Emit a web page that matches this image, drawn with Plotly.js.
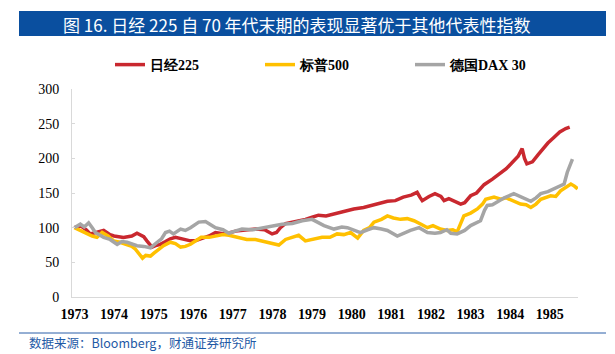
<!DOCTYPE html>
<html>
<head>
<meta charset="utf-8">
<script src="https://cdn.plot.ly/plotly-3.0.1.min.js"></script>
<style>html,body{margin:0;padding:0;background:#fff;}#chart{width:615px;height:354px;}</style>
</head>
<body>
<div id="chart"></div>
<script>
// ---- data (decimal year, index level, 1973 = 100) ----
const nikkeiDates = [1973.0,1973.15,1973.3,1973.4,1973.55,1973.74,1973.9,1974.0,1974.24,1974.45,1974.58,1974.75,1974.83,1974.96,1975.05,1975.17,1975.3,1975.42,1975.55,1975.68,1975.8,1975.93,1976.05,1976.2,1976.4,1976.56,1976.8,1977.07,1977.3,1977.57,1977.8,1977.99,1978.1,1978.2,1978.33,1978.6,1978.83,1979.0,1979.16,1979.35,1979.6,1979.8,1980.05,1980.3,1980.6,1980.9,1981.1,1981.3,1981.5,1981.65,1981.72,1981.78,1981.95,1982.1,1982.25,1982.33,1982.45,1982.6,1982.75,1982.85,1983.0,1983.15,1983.34,1983.55,1983.76,1983.9,1984.05,1984.2,1984.3,1984.36,1984.42,1984.56,1984.7,1984.81,1984.95,1985.1,1985.25,1985.4,1985.5];
const nikkeiValues = [100,103,97,91,93,96,90,88,86,88,92,87,81,72,74,76,80,84,86,84,83,81,81,84,88,93,91,95,96,98,97,91,93,100,106,109,112,115,118,117,121,123,127,129,133,138,139,144,147,151,144,139,145,149,145,139,142,138,134,136,146,150,162,170,179,185,194,203,214,200,192,195,205,213,222,230,238,243,245];

const spxDates = [1973.0,1973.15,1973.32,1973.45,1973.57,1973.7,1973.85,1973.99,1974.15,1974.33,1974.45,1974.54,1974.65,1974.72,1974.8,1974.92,1975.0,1975.09,1975.25,1975.42,1975.55,1975.68,1975.8,1975.93,1976.05,1976.2,1976.4,1976.56,1976.75,1976.9,1977.15,1977.35,1977.57,1977.8,1978.0,1978.16,1978.33,1978.5,1978.66,1978.83,1979.0,1979.25,1979.45,1979.63,1979.8,1979.97,1980.15,1980.3,1980.45,1980.56,1980.75,1980.9,1981.05,1981.23,1981.4,1981.57,1981.75,1981.91,1982.05,1982.24,1982.4,1982.55,1982.66,1982.75,1982.83,1983.0,1983.17,1983.3,1983.38,1983.59,1983.76,1983.9,1984.05,1984.26,1984.4,1984.52,1984.65,1984.77,1985.02,1985.15,1985.27,1985.4,1985.53,1985.62,1985.7];
const spxValues = [100,96,91,88,86,93,88,81,79,76,73,69,60,56,60,59,63,67,74,79,77,72,73,76,80,86,86,88,90,89,86,83,83,80,78,75,83,86,89,81,83,86,86,91,90,93,85,96,100,108,112,117,114,112,113,110,105,100,103,98,96,97,94,105,117,121,127,134,141,144,141,143,139,134,133,129,134,141,146,145,153,158,163,160,156];

const daxDates = [1973.0,1973.15,1973.25,1973.36,1973.45,1973.53,1973.74,1973.9,1974.08,1974.2,1974.33,1974.45,1974.58,1974.75,1974.92,1975.09,1975.2,1975.3,1975.4,1975.5,1975.68,1975.8,1975.93,1976.14,1976.31,1976.45,1976.56,1976.75,1976.9,1977.05,1977.23,1977.5,1977.74,1978.0,1978.24,1978.5,1978.75,1979.0,1979.15,1979.3,1979.55,1979.75,1979.89,1980.05,1980.22,1980.4,1980.56,1980.75,1980.9,1981.15,1981.3,1981.48,1981.7,1981.8,1981.91,1982.1,1982.24,1982.4,1982.5,1982.66,1982.85,1983.0,1983.15,1983.25,1983.35,1983.42,1983.55,1983.67,1983.85,1984.09,1984.3,1984.52,1984.65,1984.77,1984.95,1985.1,1985.25,1985.36,1985.44,1985.5,1985.57];
const daxValues = [100,105,101,107,100,93,86,83,76,80,79,76,74,73,71,79,84,93,95,91,98,96,100,108,109,104,100,97,92,95,98,97,100,102,105,106,110,112,108,103,98,101,100,96,93,97,100,98,96,88,92,96,100,96,93,92,93,97,92,91,96,103,107,110,125,132,133,137,143,149,144,138,143,149,152,156,160,163,180,190,199];

const seriesNames = ['日经225', '标普500', '德国DAX 30'];
const yearTicks = [1973,1974,1975,1976,1977,1978,1979,1980,1981,1982,1983,1984,1985];
const yearLabels = yearTicks.map(String);
const yTicks = [0,50,100,150,200,250,300];

const titleText = '图 16. 日经 225 自 70 年代末期的表现显著优于其他代表性指数';
const sourceText = '数据来源：Bloomberg，财通证券研究所';

// ---- layout helpers (pixel -> paper) ----
const L = 72, R = 578, T = 89, B = 297;
const W = R - L, H = B - T;
const px = x => (x - L) / W;
const py = y => (B - y) / H;

const serif = 'Liberation Serif, serif';
const sans = 'Noto Sans CJK SC, sans-serif';

const lineW = 3.5;
const traces = [
  {x: nikkeiDates, y: nikkeiValues, name: seriesNames[0], type: 'scatter', mode: 'lines', line: {color: '#c9282f', width: lineW}},
  {x: spxDates, y: spxValues, name: seriesNames[1], type: 'scatter', mode: 'lines', line: {color: '#ffc000', width: lineW}},
  {x: daxDates, y: daxValues, name: seriesNames[2], type: 'scatter', mode: 'lines', line: {color: '#a5a5a5', width: lineW}}
];

const blue = '#0a4f9f';
const layout = {
  width: 615, height: 354,
  margin: {l: L, r: 615 - R, t: T, b: 354 - B, pad: 0},
  paper_bgcolor: '#ffffff', plot_bgcolor: '#ffffff',
  font: {family: serif},
  showlegend: true,
  legend: {
    orientation: 'h', x: px(110), xanchor: 'left', y: py(65), yanchor: 'middle',
    font: {family: serif, size: 14, color: '#000', weight: 'bold'},
    entrywidth: 105, entrywidthmode: 'pixels',
    bgcolor: 'rgba(0,0,0,0)', borderwidth: 0
  },
  xaxis: {
    range: [1972.94, 1985.71], tickmode: 'array', tickvals: yearTicks, ticktext: yearLabels,
    showline: true, linecolor: '#d9d9d9', linewidth: 1, ticks: '', showgrid: false, zeroline: false,
    tickfont: {family: serif, size: 14, color: '#000', weight: 'bold'}, ticklabelstandoff: 4
  },
  yaxis: {
    range: [0, 300], tickmode: 'array', tickvals: yTicks,
    showline: true, linecolor: '#d9d9d9', linewidth: 1, ticks: 'inside', ticklen: 3, tickcolor: '#d9d9d9',
    showgrid: false, zeroline: false,
    tickfont: {family: serif, size: 14, color: '#000'}, ticklabelstandoff: 9
  },
  shapes: [
    {type: 'rect', xref: 'paper', yref: 'paper', x0: px(19), x1: px(606), y0: py(36), y1: py(11), fillcolor: blue, line: {width: 0}, layer: 'below'},
    {type: 'line', xref: 'paper', yref: 'paper', x0: px(19), x1: px(606), y0: py(333), y1: py(333), line: {color: '#2a5ea8', width: 1}}
  ],
  annotations: [
    {text: titleText, xref: 'paper', yref: 'paper', x: px(61), y: py(24), xanchor: 'left', yanchor: 'middle', showarrow: false,
     font: {family: sans, size: 17, color: '#ffffff'}},
    {text: sourceText, xref: 'paper', yref: 'paper', x: px(27), y: py(342), xanchor: 'left', yanchor: 'middle', showarrow: false,
     font: {family: sans, size: 12.5, color: '#1f5aa6'}}
  ]
};

Plotly.newPlot('chart', traces, layout, {displayModeBar: false, staticPlot: true});
</script>
</body>
</html>
